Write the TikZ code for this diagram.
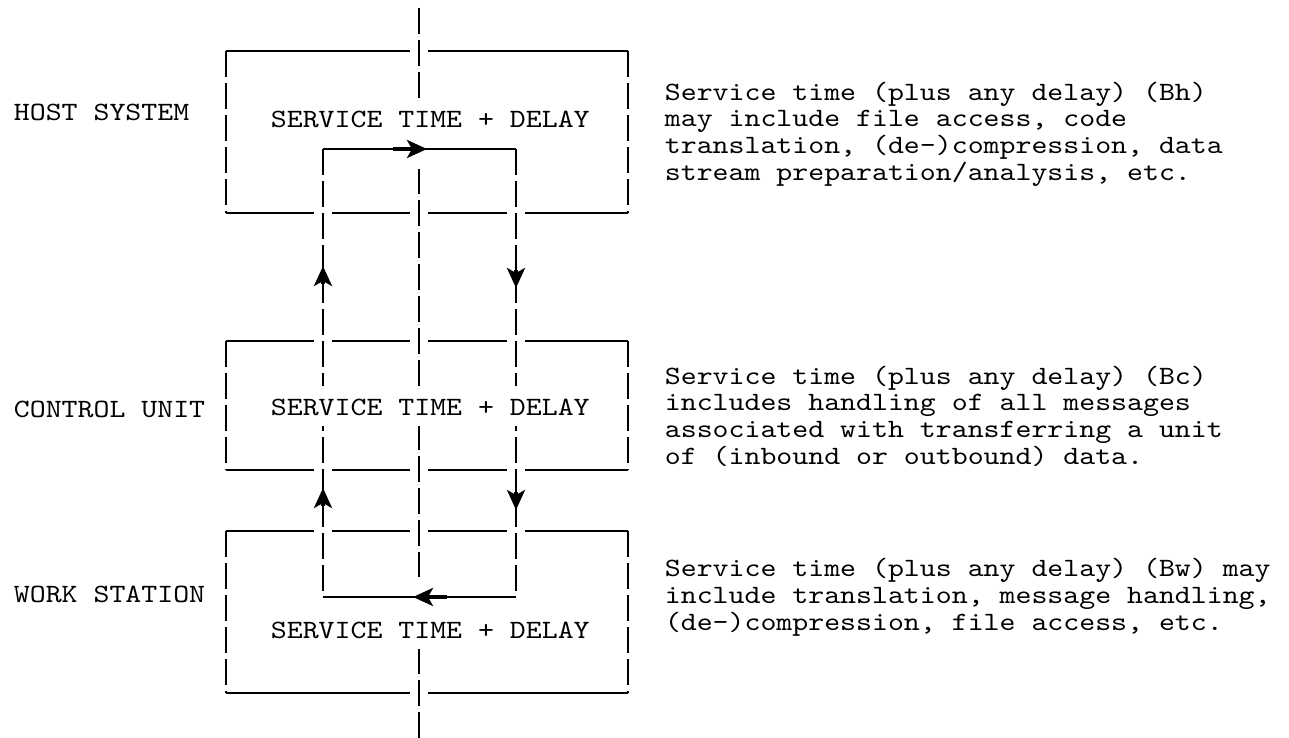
\documentclass[tikz,border=0pt]{standalone}
\usepackage{fontspec}
\setmonofont[Extension=.otf, FakeStretch=1.15]{lmmono10-regular}
\usetikzlibrary{arrows.meta}
\begin{document}
\begin{tikzpicture}[x=.5pt, y=-.5pt, line width=.9pt,
	font=\ttfamily\fontsize{13.2pt}{13.3pt}\selectfont,
	box/.style={minimum width=200pt, inner sep=0pt},
	vedge/.style={dash pattern=on 13pt off 3pt},
	gap/.style={draw=white, line width=9pt},
	gapwide/.style={draw=white, line width=20pt},
	svc/.style={anchor=base west, fill=white, inner xsep=2pt, inner ysep=5.5pt, text height=9pt, text depth=0pt},
	lbl/.style={anchor=base west, inner sep=0pt},
	note/.style={anchor=base west, align=left, inner sep=0pt},
	arr/.style={-{Stealth[length=10pt, width=9pt, inset=2.5pt]}, line width=1.6pt}]
	\useasboundingbox (0,0) rectangle (1289,738);
	%boxes
	\node[box, minimum height=80pt] (host) at (427,132) {};
	\node[box, minimum height=63.5pt] (ctrl) at (427,405.5) {};
	\node[box, minimum height=80pt] (ws) at (427,612) {};
	\foreach \b in {host,ctrl,ws}{
		\draw (\b.north west) -- (\b.north east) (\b.south west) -- (\b.south east);
		\draw[vedge] (\b.north west) -- (\b.south west) (\b.north east) -- (\b.south east);
	}
	%wires
	\coordinate (top) at (419,8);
	\coordinate (bot) at (419,738);
	\coordinate (lu) at (323,149);
	\coordinate (ru) at (516,149);
	\coordinate (ld) at (323,597);
	\coordinate (rd) at (516,597);
	\draw[gap] (top) -- (bot);
	\draw[vedge] (top) -- (bot);
	\draw[gapwide] (lu) -- (ru) (rd) -- (ld);
	\draw[gap] (lu) -- (ld) (ru) -- (rd);
	\draw (lu) -- (ru) (rd) -- (ld);
	\draw[vedge] (lu) -- (ld) (ru) -- (rd);
	%arrows
	\draw[arr] (393,149) -- (427,149);
	\draw[arr] (447,597) -- (413,597);
	\foreach \y in {266,488}
	\draw[arr] (323,\y+18) -- (323,\y);
	\foreach \y in {288,510}
	\draw[arr] (516,\y-18) -- (516,\y);
	%texts
	\node[svc] (hosttxt) at (266,127) {SERVICE TIME + DELAY};
	\node[svc] (ctrltxt) at (266,415) {SERVICE TIME + DELAY};
	\node[svc] (wstxt) at (266,638) {SERVICE TIME + DELAY};
	\node[lbl] (hostlbl) at (13,120) {HOST SYSTEM};
	\node[lbl] (ctrllbl) at (13,417) {CONTROL UNIT};
	\node[lbl] (wslbl) at (13,602) {WORK STATION};
	%notes
	\node[note] (hostnote) at (664,180) {Service time (plus any delay) (Bh)\\
		may include file access, code\\
		translation, (de-)compression, data\\
		stream preparation/analysis, etc.};
	\node[note] (ctrlnote) at (664,464) {Service time (plus any delay) (Bc)\\
		includes handling of all messages\\
		associated with transferring a unit\\
		of (inbound or outbound) data.};
	\node[note] (wsnote) at (664,630) {Service time (plus any delay) (Bw) may\\
		include translation, message handling,\\
		(de-)compression, file access, etc.};
\end{tikzpicture}
\end{document}
